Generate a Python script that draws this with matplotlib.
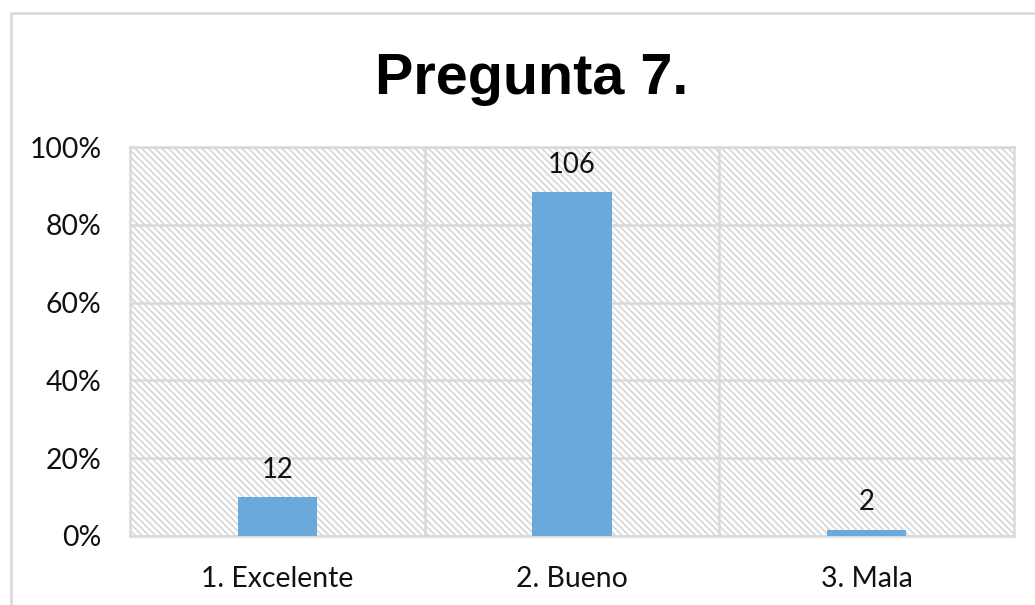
import matplotlib.pyplot as plt
from matplotlib.patches import Rectangle
from matplotlib.ticker import PercentFormatter

categories = ["1. Excelente", "2. Bueno", "3. Mala"]
counts = [12, 106, 2]
title = "Pregunta 7."
y_ticks = [0, 0.2, 0.4, 0.6, 0.8, 1.0]

total = sum(counts)
shares = [c / total for c in counts]

DPI = 120
W, H = 1035, 605
grid_col = "#D9D9D9"
bar_col = "#6CA9DB"
label_font = ["Lato", "DejaVu Sans"]

plt.rcParams["hatch.linewidth"] = 1.0

fig = plt.figure(figsize=(W / DPI, H / DPI), dpi=DPI)
fig.patch.set_facecolor("white")

# outer chart frame
fig.add_artist(Rectangle((11 / W, -0.2), 1.2, 0.2 + (H - 13) / H,
                         transform=fig.transFigure, fill=False,
                         edgecolor=grid_col, linewidth=1.6))

ax = fig.add_axes([130 / W, (H - 536) / H, (1014 - 130) / W, (536 - 147) / H])

# hatched plot-area background
ax.add_patch(Rectangle((0, 0), 1, 1, transform=ax.transAxes, facecolor="white",
                       edgecolor="#D6D6D6", linewidth=0, hatch="\\" * 6, zorder=0))

x = range(len(categories))
ax.bar(x, shares, width=0.27, color=bar_col, zorder=3)

for xi, s, c in zip(x, shares, counts):
    ax.annotate(str(c), (xi, s), xytext=(0, 8.5), textcoords="offset points",
                ha="center", va="bottom", fontsize=16.5, family=label_font,
                color="#111111", zorder=4)

ax.set_xlim(-0.5, len(categories) - 0.5)
ax.set_ylim(0, 1)
ax.set_yticks(y_ticks)
ax.yaxis.set_major_formatter(PercentFormatter(1.0, decimals=0))
ax.set_xticks(list(x))
ax.set_xticklabels(categories)

for v in y_ticks:
    ax.axhline(v, color=grid_col, linewidth=1.5, zorder=1)
for b in [0.5, 1.5]:
    ax.axvline(b, color=grid_col, linewidth=1.5, zorder=1)

for sp in ax.spines.values():
    sp.set_color(grid_col)
    sp.set_linewidth(1.5)

ax.tick_params(axis="both", length=0, labelsize=17, colors="#111111")
ax.tick_params(axis="x", pad=18)
ax.tick_params(axis="y", pad=17)
for lab in ax.get_xticklabels() + ax.get_yticklabels():
    lab.set_family(label_font)

fig.text(532 / W, (H - 79) / H, title, ha="center", va="center",
         fontsize=34.5, fontweight="bold", family=["Liberation Sans", "DejaVu Sans"])

fig.savefig("out.png", dpi=DPI)
